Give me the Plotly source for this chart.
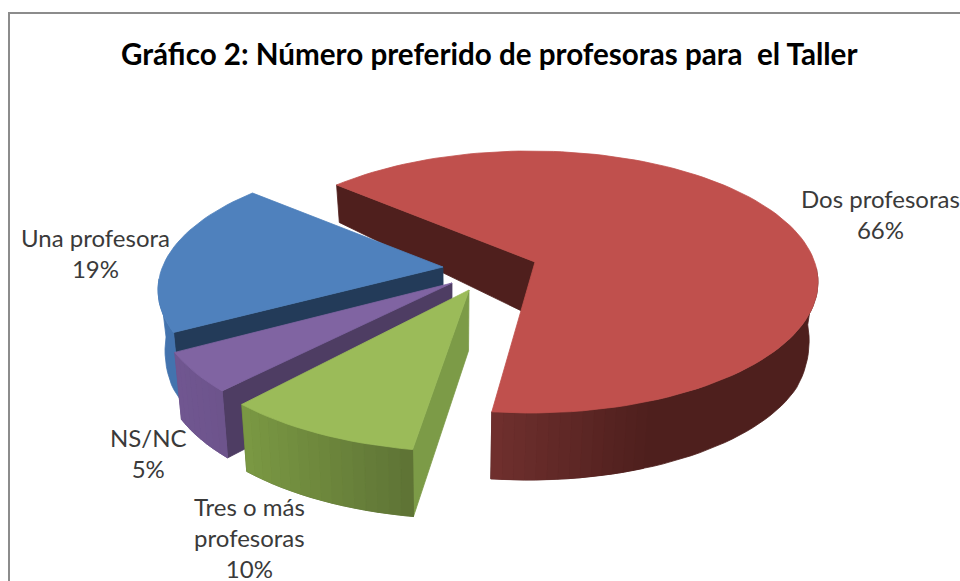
import math
import plotly.graph_objects as go

# ---- data (clockwise, starting at the first slice's edge) ----
categories = ["Dos profesoras", "Tres o más profesoras", "NS/NC", "Una profesora"]
values = [66, 10, 5, 19]
label_texts = ["Dos profesoras<br>66%", "Tres o más<br>profesoras<br>10%", "NS/NC<br>5%", "Una profesora<br>19%"]
title_text = "Gráfico 2: Número preferido de profesoras para  el Taller"

# ---- styling / projection of the pulled-out 3D pie ----
W, H = 960, 581
START_ANGLE = 310.0
DIR_RX, DIR_RY = 283.0, 131.0
# "skew": small foreshortening correction (degrees) of each slice's two edges
geometry = [
    dict(apex=(535, 262), centre=(530, 282), rx=288, ry=131, skew=(0.0, 0.0)),
    dict(apex=(469, 290), centre=(469, 315), rx=300, ry=137, skew=(1.7, -1.0)),
    dict(apex=(452, 283), centre=(452, 304), rx=296, ry=138, skew=(1.0, 0.0)),
    dict(apex=(443, 267), centre=(446, 290), rx=288, ry=131, skew=(0.7, 0.0)),
]
top_colors = ["#C0504D", "#9BBB59", "#8064A2", "#4F81BD"]
cut_colors = ["#4F1F1D", "#7C9B47", "#4E3D63", "#233B59"]
wall_ramps = [
    (492, (0x70, 0x30, 0x2E), 650, (0x4E, 0x1F, 0x1D)),
    (245, (0x7A, 0x98, 0x43), 412, (0x5E, 0x73, 0x35)),
    (180, (0x70, 0x56, 0x90), 232, (0x6C, 0x53, 0x8B)),
    (160, (0x43, 0x73, 0xAE), 180, (0x43, 0x73, 0xAE)),
]
label_pos = [(880, 214), (249, 537), (148, 453), (95, 253)]
draw_order = [0, 3, 2, 1]


def rim_point(g, theta):
    """Where the ray at pie angle theta leaves the slice's projected ellipse."""
    t = math.radians(theta)
    dx, dy = math.sin(t) * DIR_RX, -math.cos(t) * DIR_RY
    ox, oy = g["apex"][0] - g["centre"][0], g["apex"][1] - g["centre"][1]
    a = (dx / g["rx"]) ** 2 + (dy / g["ry"]) ** 2
    b = 2 * (ox * dx / g["rx"] ** 2 + oy * dy / g["ry"] ** 2)
    c = (ox / g["rx"]) ** 2 + (oy / g["ry"]) ** 2 - 1
    s = (-b + math.sqrt(b * b - 4 * a * c)) / (2 * a)
    return g["apex"][0] + s * dx, g["apex"][1] + s * dy


def extrude(p):
    """Bottom counterpart of a top-face point (perspective: lean in, deeper in front)."""
    x, y = p
    return x + (450 - x) * 0.024, y + min(67.0, 38 + (y - 187) * 0.22)


def ramp(r, x):
    x0, c0, x1, c1 = r
    f = max(0.0, min(1.0, (x - x0) / (x1 - x0)))
    return "rgb(%d,%d,%d)" % tuple(round(a + (b - a) * f) for a, b in zip(c0, c1))


def poly(pts, color, name, lw=0.8):
    xs = [p[0] for p in pts] + [pts[0][0]]
    ys = [p[1] for p in pts] + [pts[0][1]]
    return go.Scatter(x=xs, y=ys, mode="lines", fill="toself", fillcolor=color,
                      line=dict(color=color, width=lw), name=name,
                      hoverinfo="name", showlegend=False)


# angular extents from the data
total = sum(values)
spans = []
a0 = START_ANGLE
for v in values:
    a1 = a0 + 360.0 * v / total
    spans.append((a0, a1))
    a0 = a1

fig = go.Figure()
for i in draw_order:
    g, (t0, t1), name = geometry[i], spans[i], categories[i]
    t0, t1 = t0 + g["skew"][0], t1 + g["skew"][1]
    n = max(6, int((t1 - t0) / 2))
    thetas = [t0 + (t1 - t0) * k / n for k in range(n + 1)]
    rim = [rim_point(g, th) for th in thetas]
    # cut face at the slice's leading edge
    fig.add_trace(poly([g["apex"], rim[0], extrude(rim[0]), extrude(g["apex"])], cut_colors[i], name))
    # outer wall: one base shape, then shading bands where the ramp differs from it
    front = [p for p in rim if p[1] > g["centre"][1] - 15]
    r = wall_ramps[i]
    base = ramp(r, r[2])
    fig.add_trace(poly(front + [extrude(p) for p in reversed(front)], base, name))
    for p, q in zip(front[:-1], front[1:]):
        col = ramp(r, (p[0] + q[0]) / 2)
        if col != base:
            fig.add_trace(poly([p, q, extrude(q), extrude(p)], col, name, lw=0.6))
    # top face
    fig.add_trace(poly([g["apex"]] + rim, top_colors[i], name))

annotations = [
    dict(x=x, y=y, text=t, showarrow=False, xref="x", yref="y", align="center",
         xanchor="center", yanchor="middle",
         font=dict(family="Lato", size=24, color="#3a3a3a"))
    for t, (x, y) in zip(label_texts, label_pos)
]
annotations.append(dict(x=489, y=53, text="<b>%s</b>" % title_text, showarrow=False, xref="x", yref="y",
                        xanchor="center", yanchor="middle",
                        font=dict(family="Lato", size=29.6, color="#000000")))

frame = dict(type="rect", xref="x", yref="y", x0=9, y0=13, x1=990, y1=610,
             line=dict(color="#8c8c8c", width=2), fillcolor="rgba(0,0,0,0)", layer="below")

fig.update_layout(
    width=W, height=H, margin=dict(l=0, r=0, t=0, b=0),
    paper_bgcolor="#ffffff", plot_bgcolor="#ffffff", showlegend=False,
    xaxis=dict(range=[0, W], visible=False, fixedrange=True),
    yaxis=dict(range=[H, 0], visible=False, fixedrange=True),
    annotations=annotations, shapes=[frame],
)
fig.write_html("out.html", config=dict(displayModeBar=False),
               post_script="document.body.style.margin='0';document.body.style.overflow='hidden';")
